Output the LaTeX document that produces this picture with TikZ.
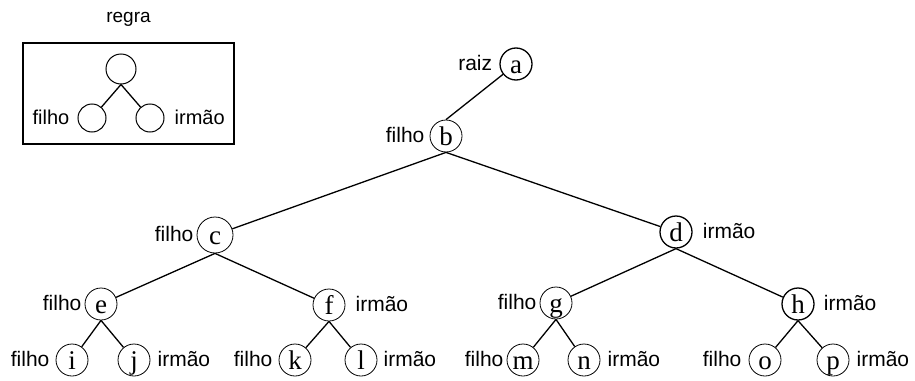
\documentclass[tikz,border=0pt]{standalone}
\usepackage{fontspec}
\setmainfont{Liberation Serif}
\setsansfont{Liberation Sans}
\usetikzlibrary{positioning}
\begin{document}
\begin{tikzpicture}[x=1pt,y=-1pt,
  nd/.style={circle,draw,line width=0.8pt,minimum size=32pt,inner sep=0pt,
    font=\fontsize{27}{27}\selectfont,text height=18pt,text depth=0pt},
  thick nd/.style={nd,line width=1.3pt},
  rn/.style={circle,draw,line width=1pt,minimum size=28pt,inner sep=0pt},
  lbl/.style={font=\sffamily\fontsize{21}{21}\selectfont,inner sep=0pt,text height=12pt,text depth=0pt},
  rlbl/.style={lbl,font=\sffamily\fontsize{20}{20}\selectfont},
  edge/.style={line width=1.3pt},
  box/.style={draw,line width=1.3pt,minimum width=211pt,minimum height=101pt,inner sep=0pt}]
\useasboundingbox (0,0) rectangle (915,380);
% rule
\node[lbl,font=\sffamily\fontsize{19}{19}\selectfont,anchor=base] (regra) at (128.5,22) {regra};
\node[box] (rbox) at (128.5,93.5) {};
\node[rn,minimum size=30pt] (rt) at (121,69) {};
\node[rn] (rl) at (92,118) {};
\node[rn] (rr) at (150,118) {};
\draw[edge] (rt.south) -- (rl);
\draw[edge] (rt.south) -- (rr);
\node[rlbl,left=8pt of rl] (rlf) {filho};
\node[rlbl,right=10pt of rr] (rri) {irmão};
% tree nodes
\node[thick nd] (a) at (516,64) {a};
\node[nd] (b) at (446,136) {b};
\node[nd,minimum width=36pt] (c) at (215,235) {c};
\node[thick nd] (d) at (676,232) {d};
\node[nd] (e) at (101,304) {e};
\node[nd] (f) at (329,305) {f};
\node[nd] (g) at (556,303) {g};
\node[thick nd] (h) at (798,304) {h};
\node[nd] (i) at (72,360) {i};
\node[nd] (j) at (134,360) {j};
\node[nd] (k) at (295,360) {k};
\node[nd] (l) at (361,360) {l};
\node[nd] (m) at (523,360) {m};
\node[nd] (n) at (584,360) {n};
\node[nd] (o) at (765,360) {o};
\node[nd] (p) at (833,360) {p};
% edges
\draw[edge] (a) -- (b.north);
\draw[edge] (b.south) -- (c);
\draw[edge] (b.south) -- (d);
\draw[edge] (c.south) -- (e);
\draw[edge] (c.south) -- (f);
\draw[edge] (d.south) -- (g);
\draw[edge] (d.south) -- (h);
\draw[edge] (e.south) -- (i);
\draw[edge] (e.south) -- (j);
\draw[edge] (f.south) -- (k);
\draw[edge] (f.south) -- (l);
\draw[edge] (g.south) -- (m);
\draw[edge] (g.south) -- (n);
\draw[edge] (h.south) -- (o);
\draw[edge] (h.south) -- (p);
% labels
\node[lbl,left=7pt of a] (la) {raiz};
\node[lbl,left=5pt of b] (lb) {filho};
\node[lbl,left=3pt of c] (lc) {filho};
\node[lbl,right=10pt of d] (ld) {irmão};
\node[lbl,left=3pt of e] (le) {filho};
\node[lbl,right=10pt of f] (lf) {irmão};
\node[lbl,left=3pt of g] (lg) {filho};
\node[lbl,right=9pt of h] (lh) {irmão};
\node[lbl,left=6pt of i] (li) {filho};
\node[lbl,right=7pt of j] (lj) {irmão};
\node[lbl,left=6pt of k] (lk) {filho};
\node[lbl,right=6pt of l] (ll) {irmão};
\node[lbl,left=3pt of m] (lm) {filho};
\node[lbl,right=7pt of n] (ln) {irmão};
\node[lbl,left=7pt of o] (lo) {filho};
\node[lbl,right=7pt of p] (lp) {irmão};
\end{tikzpicture}
\end{document}
